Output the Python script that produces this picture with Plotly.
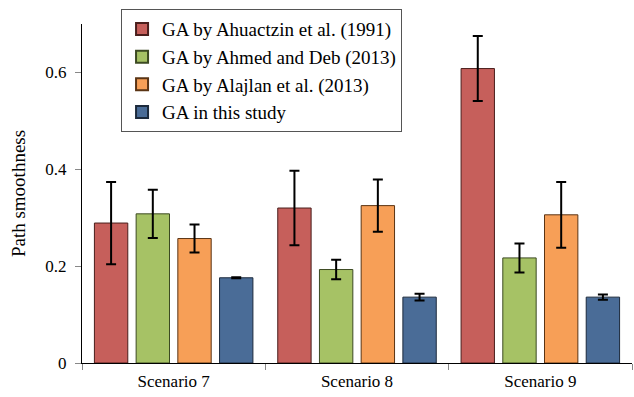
import plotly.graph_objects as go

categories = ["Scenario 7", "Scenario 8", "Scenario 9"]
series_names = [
    "GA by Ahuactzin et al. (1991)",
    "GA by Ahmed and Deb (2013)",
    "GA by Alajlan et al. (2013)",
    "GA in this study",
]
ahuactzin = [0.289, 0.320, 0.608]
ahuactzin_err = [0.085, 0.077, 0.067]
ahmed = [0.308, 0.193, 0.217]
ahmed_err = [0.050, 0.020, 0.030]
alajlan = [0.257, 0.325, 0.306]
alajlan_err = [0.029, 0.054, 0.068]
this_study = [0.176, 0.136, 0.136]
this_study_err = [0.001, 0.007, 0.0055]

values = [ahuactzin, ahmed, alajlan, this_study]
errors = [ahuactzin_err, ahmed_err, alajlan_err, this_study_err]
colors = ["#C65F5B", "#A6C265", "#F79F57", "#4A6C97"]
outlines = ["#4a1e1c", "#3c4a22", "#5a3414", "#1c2a3c"]

FONT = "Liberation Serif"

fig = go.Figure()
for name, v, e, c, o in zip(series_names, values, errors, colors, outlines):
    fig.add_trace(go.Bar(
        x=categories, y=v, name=name,
        marker=dict(color=c, line=dict(color=o, width=1)),
        error_y=dict(type="data", array=e, visible=True, color="black",
                     thickness=2, width=5),
    ))

fig.update_layout(
    width=634, height=397,
    margin=dict(l=82, r=2, t=24, b=34, autoexpand=False),
    paper_bgcolor="white", plot_bgcolor="white",
    barmode="group", bargap=0.09, bargroupgap=0.2,
    font=dict(family=FONT, size=18, color="black"),
    showlegend=True,
    legend=dict(
        x=0.071, y=1.044, xanchor="left", yanchor="top",
        bordercolor="#555555", borderwidth=1, bgcolor="white",
        font=dict(family=FONT, size=19, color="black"),
        tracegroupgap=0, itemsizing="constant",
    ),
    xaxis=dict(
        automargin=False,
        showline=True, linecolor="black", linewidth=1,
        ticks="outside", tickson="boundaries", ticklen=6, tickcolor="#888888",
        tickfont=dict(family=FONT, size=17, color="black"),
        ticklabelstandoff=3,
        showgrid=False,
    ),
    yaxis=dict(
        automargin=False,
        range=[0, 0.7], tickvals=[0, 0.2, 0.4, 0.6], ticktext=["0", "0.2", "0.4", "0.6"],
        showline=True, linecolor="black", linewidth=1,
        ticks="outside", ticklen=6, tickcolor="#888888",
        tickfont=dict(family=FONT, size=17, color="black"),
        ticklabelstandoff=5,
        showgrid=False, zeroline=False,
        title=dict(text="Path smoothness", font=dict(family=FONT, size=19, color="black"), standoff=14),
    ),
)

fig.write_html("out.html", config={"displayModeBar": False},
               post_script="document.body.style.margin='0';")
